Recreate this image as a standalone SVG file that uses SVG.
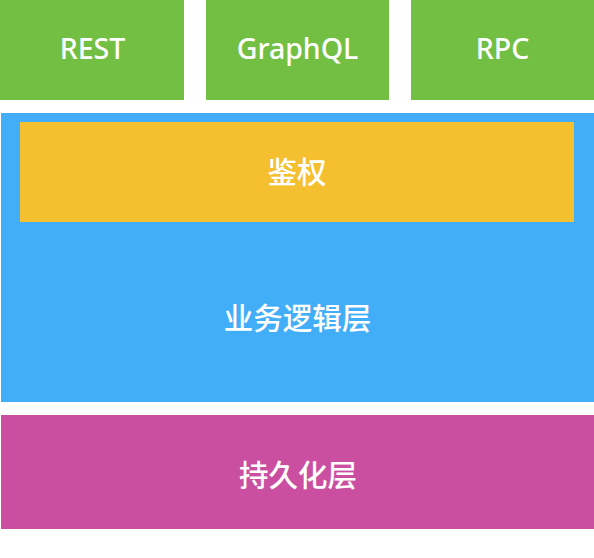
<svg xmlns="http://www.w3.org/2000/svg" width="594" height="558" viewBox="0 0 594 558">
<style>
text{fill:#ffffff;font-family:"Noto Sans","Noto Sans CJK SC",sans-serif;text-anchor:middle;dominant-baseline:central;font-weight:500}
.en{font-size:28.5px}
.zh{font-size:29.5px}
.green{fill:#72BF44}
.blue{fill:#42AEF7}
.yellow{fill:#F4C030}
.pink{fill:#CB4FA1}
</style>
<rect width="594" height="558" fill="#ffffff"/>
<g id="rest"><rect class="green" x="0" y="0" width="184" height="100"/><text class="en" x="92.5" y="48">REST</text></g>
<g id="graphql"><rect class="green" x="206" y="0" width="183" height="100"/><text class="en" x="297.5" y="48">GraphQL</text></g>
<g id="rpc"><rect class="green" x="411" y="0" width="183" height="100"/><text class="en" x="502.5" y="48">RPC</text></g>
<g id="logic"><rect class="blue" x="1" y="113" width="593" height="289"/><text class="zh" x="297.5" y="317">业务逻辑层</text></g>
<g id="auth"><rect class="yellow" x="20" y="122" width="554" height="100"/><text class="zh" x="297" y="171.5">鉴权</text></g>
<g id="persistence"><rect class="pink" x="1" y="415" width="593" height="114"/><text class="zh" x="298" y="474">持久化层</text></g>
<g id="connectors"></g>
</svg>
